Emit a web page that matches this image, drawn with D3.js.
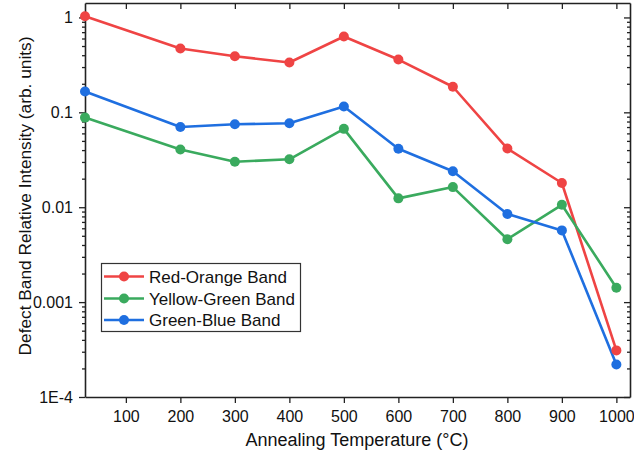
<!DOCTYPE html>
<html>
<head>
<meta charset="utf-8">
<script src="https://cdn.jsdelivr.net/npm/d3@7"></script>
<style>
  html, body { margin: 0; padding: 0; background: #ffffff; }
  svg { display: block; font-family: "Liberation Sans", Arial, sans-serif; }
</style>
</head>
<body>
<svg id="chart" width="634" height="457"></svg>
<script>
// ---- data ----
const temperatures = [25, 200, 300, 400, 500, 600, 700, 800, 900, 1000];
const redOrange   = [1.03, 0.47, 0.39, 0.335, 0.63, 0.36, 0.186, 0.0415, 0.018, 0.00031];
const yellowGreen = [0.088, 0.0405, 0.0302, 0.032, 0.067, 0.0124, 0.0163, 0.0046, 0.0106, 0.00142];
const greenBlue   = [0.166, 0.070, 0.0748, 0.0767, 0.115, 0.0413, 0.0239, 0.0085, 0.0057, 0.00022];
const seriesNames = ["Red-Orange Band", "Yellow-Green Band", "Green-Blue Band"];
const seriesColors = ["#ef4444", "#3aaa5e", "#1f6fe0"];
const xTickValues = [100, 200, 300, 400, 500, 600, 700, 800, 900, 1000];
const yTickValues = [1e-4, 1e-3, 1e-2, 1e-1, 1];
const yTickLabels = ["1E-4", "0.001", "0.01", "0.1", "1"];
const xTitle = "Annealing Temperature (°C)";
const yTitle = "Defect Band Relative Intensity (arb. units)";

const series = [redOrange, yellowGreen, greenBlue];

// ---- layout ----
const W = 634, H = 457;
const L = 85, R = 630, T = 3, B = 397;

const svg = d3.select("#chart");
svg.append("rect").attr("width", W).attr("height", H).attr("fill", "#ffffff");

const x = d3.scaleLinear().domain([25, 1025]).range([L, R]);
const y = d3.scaleLog().domain([1e-4, 1.42]).range([B, T]);

// minor ticks
const minorY = [];
for (let e = -4; e <= 0; e++) {
  for (let m = 2; m <= 9; m++) {
    const v = m * Math.pow(10, e);
    if (v < 1.42) minorY.push(v);
  }
}

const axisColor = "#222";
const tickFmt = d => yTickLabels[yTickValues.indexOf(d)];

// left axis (outward)
const gL = svg.append("g").attr("transform", `translate(${L},0)`);
gL.call(d3.axisLeft(y).tickValues(minorY).tickSize(3).tickFormat(""));
gL.call(g => g.select(".domain").remove());
const gL2 = svg.append("g").attr("transform", `translate(${L},0)`);
gL2.call(d3.axisLeft(y).tickValues(yTickValues).tickSize(6).tickSizeOuter(0).tickPadding(6).tickFormat(tickFmt));

// right axis (inward)
const gR = svg.append("g").attr("transform", `translate(${R},0)`);
gR.call(d3.axisRight(y).tickValues(minorY).tickSize(-3).tickFormat(""));
gR.call(g => g.select(".domain").remove());
const gR2 = svg.append("g").attr("transform", `translate(${R},0)`);
gR2.call(d3.axisRight(y).tickValues(yTickValues).tickSize(-6).tickSizeOuter(0).tickFormat(""));

// bottom axis (outward)
const gB = svg.append("g").attr("transform", `translate(0,${B})`);
gB.call(d3.axisBottom(x).tickValues(xTickValues).tickSize(6).tickSizeOuter(0).tickPadding(8).tickFormat(d3.format("d")));

// top axis (inward)
const gT = svg.append("g").attr("transform", `translate(0,${T})`);
gT.call(d3.axisTop(x).tickValues(xTickValues).tickSize(-6).tickSizeOuter(0).tickFormat(""));

svg.selectAll(".domain").attr("stroke", axisColor).attr("stroke-width", 1.6);
svg.selectAll(".tick line").attr("stroke", axisColor).attr("stroke-width", 1.3);
svg.selectAll(".tick text")
  .attr("fill", "#111")
  .style("font-size", "16px")
  .style("font-family", "'Liberation Sans', Arial, sans-serif");

// ---- lines & markers ----
const line = d3.line()
  .x((d, i) => x(temperatures[i]))
  .y(d => y(d));

series.forEach((vals, si) => {
  svg.append("path")
    .datum(vals)
    .attr("fill", "none")
    .attr("stroke", seriesColors[si])
    .attr("stroke-width", 2.6)
    .attr("stroke-linejoin", "round")
    .attr("d", line);
});
series.forEach((vals, si) => {
  svg.append("g").selectAll("circle")
    .data(vals)
    .join("circle")
    .attr("cx", (d, i) => x(temperatures[i]))
    .attr("cy", d => y(d))
    .attr("r", 5)
    .attr("fill", seriesColors[si]);
});

// ---- axis titles ----
svg.append("text")
  .attr("x", (L + R) / 2 - 0.5)
  .attr("y", 446)
  .attr("text-anchor", "middle")
  .attr("fill", "#111")
  .style("font-size", "18px")
  .text(xTitle);

svg.append("text")
  .attr("transform", `translate(31,${(T + B) / 2 - 4}) rotate(-90)`)
  .attr("text-anchor", "middle")
  .attr("fill", "#111")
  .style("font-size", "17.3px")
  .text(yTitle);

// ---- legend ----
const lg = svg.append("g");
lg.append("rect")
  .attr("x", 101.5).attr("y", 263.5)
  .attr("width", 199).attr("height", 68)
  .attr("fill", "#ffffff")
  .attr("stroke", "#333")
  .attr("stroke-width", 1.2);
const rowY = [276.5, 298.5, 320];
seriesNames.forEach((name, i) => {
  lg.append("line")
    .attr("x1", 104).attr("x2", 144)
    .attr("y1", rowY[i]).attr("y2", rowY[i])
    .attr("stroke", seriesColors[i]).attr("stroke-width", 2.6);
  lg.append("circle")
    .attr("cx", 124).attr("cy", rowY[i]).attr("r", 5)
    .attr("fill", seriesColors[i]);
  lg.append("text")
    .attr("x", 149).attr("y", rowY[i] + 6)
    .attr("fill", "#111")
    .style("font-size", "17px")
    .text(name);
});
</script>
</body>
</html>
